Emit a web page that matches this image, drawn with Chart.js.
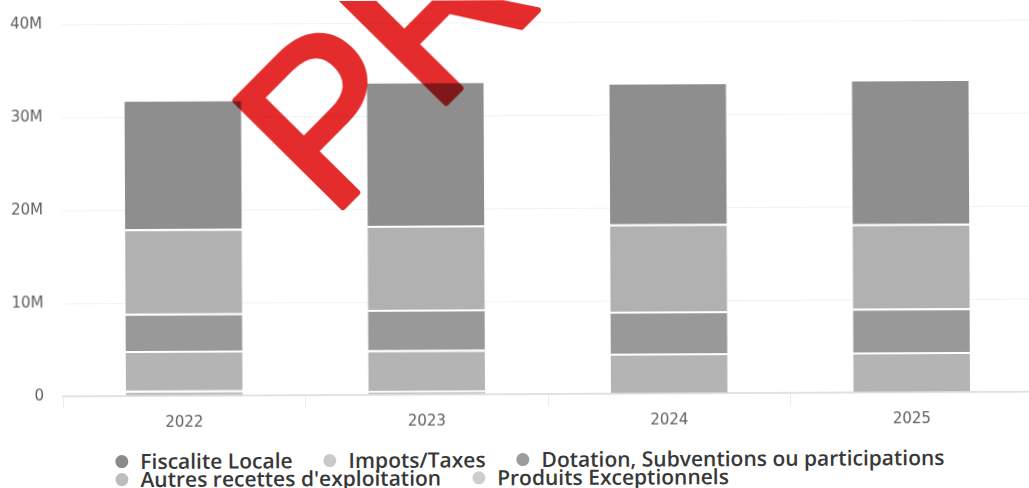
<!DOCTYPE html>
<html lang="fr">
<head>
<meta charset="utf-8">
<title>Recettes de fonctionnement 2022-2025</title>
<script src="https://cdn.jsdelivr.net/npm/chart.js@4.4.1/dist/chart.umd.min.js"></script>
<style>
  html, body { margin: 0; padding: 0; background: #fff; overflow: hidden; width: 1029px; height: 488px; }
  #page { position: absolute; left: 0; top: 0; width: 1040px; height: 488px;
          transform: rotate(-0.28deg); transform-origin: 548px 394px; }
  #chart { position: absolute; left: 0; top: 0; }
  #legend { position: absolute; left: 115px; top: 450px; width: 900px;
            display: flex; flex-wrap: wrap;
            font-family: "Open Sans", sans-serif; font-weight: 600; font-size: 21px; line-height: 18px;
            color: #383838; }
  #legend .item { display: flex; align-items: center; margin-right: 31px; white-space: nowrap; }
  #legend .dot { width: 13px; height: 13px; border-radius: 50%; margin-right: 12px; flex: none; }
</style>
</head>
<body>
<div id="page">
  <canvas id="chart" width="1040" height="440"></canvas>
  <div id="legend"></div>
</div>
<script>
// Années
const categories = ['2022', '2023', '2024', '2025'];

// Montants en millions d'euros
const fiscaliteLocale      = [13.96, 15.53, 15.25, 15.58];
const impotsTaxes          = [9.09, 9.04, 9.40, 9.11];
const dotationSubventions  = [4.01, 4.36, 4.53, 4.71];
const autresRecettes       = [4.28, 4.36, 4.31, 4.31];
const produitsExceptionnels = [0.57, 0.44, 0, 0];

// Graduations de l'axe vertical
const yTickValues = [0, 10, 20, 30, 40];
const yTickLabels = ['0', '10M', '20M', '30M', '40M'];

// Séries empilées du bas vers le haut
const series = [
  { label: 'Produits Exceptionnels', data: produitsExceptionnels, color: '#c0c0c0', dot: '#cdcdcd' },
  { label: "Autres recettes d'exploitation", data: autresRecettes, color: '#b4b4b4', dot: '#bdbdbd' },
  { label: 'Dotation, Subventions ou participations', data: dotationSubventions, color: '#999999', dot: '#9c9c9c' },
  { label: 'Impots/Taxes', data: impotsTaxes, color: '#b1b1b1', dot: '#c9c9c9' },
  { label: 'Fiscalite Locale', data: fiscaliteLocale, color: '#8e8e8e', dot: '#8a8a8a' }
];

// Filigrane : rendu hors écran puis posé en mode « multiply » sur le graphique
const filigrane = {
  id: 'filigrane',
  afterDraw(chart) {
    const { width, height } = chart;
    const off = document.createElement('canvas');
    off.width = width;
    off.height = height;
    const o = off.getContext('2d');
    o.translate(331, 219);
    o.rotate(-Math.PI / 4);
    o.font = '220px "Liberation Sans", Arial, sans-serif';
    o.fillStyle = o.strokeStyle = 'rgb(228, 44, 44)';
    o.lineWidth = 6;
    o.lineJoin = 'round';
    o.fillText('PR', 0, 0);
    o.strokeText('PR', 0, 0);
    const ctx = chart.ctx;
    ctx.save();
    ctx.setTransform(1, 0, 0, 1, 0, 0);
    ctx.globalCompositeOperation = 'multiply';
    ctx.drawImage(off, 0, 0);
    ctx.restore();
  }
};

const chart = new Chart(document.getElementById('chart'), {
  type: 'bar',
  data: {
    labels: categories,
    datasets: series.map(s => ({
      label: s.label,
      data: s.data,
      backgroundColor: s.color,
      borderColor: '#ffffff',
      borderWidth: { top: 2, right: 0, bottom: 0, left: 0 },
      borderSkipped: false,
      categoryPercentage: 1,
      barPercentage: 0.482
    }))
  },
  options: {
    responsive: false,
    animation: false,
    layout: { padding: { left: 0, top: 22.6, right: 7, bottom: 0 } },
    plugins: {
      legend: { display: false },
      tooltip: { enabled: false }
    },
    scales: {
      x: {
        stacked: true,
        afterFit(scale) { scale.height = 46; },
        grid: { drawOnChartArea: false, drawTicks: true, tickLength: 12, tickColor: '#ebebeb', offset: true },
        border: { display: true, color: '#e2e2e2', width: 2 },
        ticks: { color: '#5e5e5e', padding: 6, font: { family: '"DejaVu Sans"', size: 15 } }
      },
      y: {
        stacked: true,
        min: 0,
        max: 40,
        afterFit(scale) { scale.width = 63; },
        afterBuildTicks(scale) { scale.ticks = yTickValues.map(v => ({ value: v })); },
        grid: { color: '#f2f2f2', drawTicks: true, tickLength: 14, tickColor: 'rgba(0,0,0,0)' },
        border: { display: false },
        ticks: {
          color: '#5e5e5e',
          padding: 5,
          font: { family: '"DejaVu Sans"', size: 15 },
          callback: (value, index) => yTickLabels[index]
        }
      }
    }
  },
  plugins: [filigrane]
});

// Légende : même ordre que l'empilement, du haut vers le bas
const legend = document.getElementById('legend');
series.slice().reverse().forEach(s => {
  const item = document.createElement('div');
  item.className = 'item';
  const dot = document.createElement('span');
  dot.className = 'dot';
  dot.style.background = s.dot;
  const txt = document.createElement('span');
  txt.textContent = s.label;
  item.appendChild(dot);
  item.appendChild(txt);
  legend.appendChild(item);
});
</script>
</body>
</html>
